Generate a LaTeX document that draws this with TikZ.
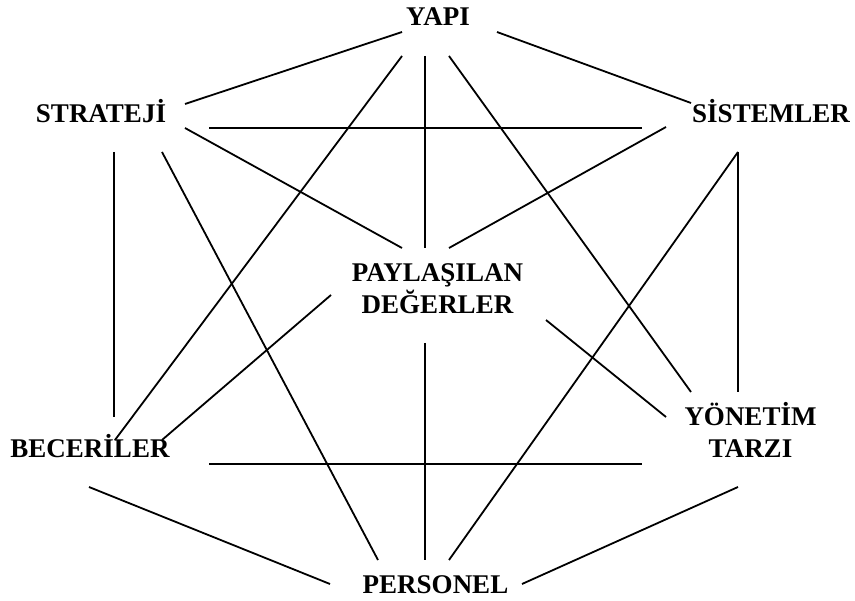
\documentclass[tikz,border=0pt]{standalone}
\usepackage{fontspec}
\setmainfont{Liberation Serif}
\usepackage{tikz}
\usetikzlibrary{positioning}
\tikzset{
  factor/.style = {anchor=base, inner sep=0pt, align=center,
                   font=\bfseries\fontsize{27}{32}\selectfont},
  link/.style   = {line width=1.8pt, black},
}

\begin{document}
\begin{tikzpicture}[x=1pt, y=-1pt]
  \useasboundingbox (0,0) rectangle (855,601);

  %─── The seven S (base = last line) ────────────────────────────────────────
  \node[factor] at (438, 26)    (yapi)      {YAPI};
  \node[factor] at (101, 123)   (strateji)  {STRATEJİ};
  \node[factor] at (771, 123)   (sistemler) {SİSTEMLER};
  \node[factor] at (437.5, 314) (degerler)  {PAYLAŞILAN\\DEĞERLER};
  \node[factor] at (90, 458)    (beceriler) {BECERİLER};
  \node[factor] at (750.5, 458) (yonetim)   {YÖNETİM\\TARZI};
  \node[factor] at (435.5, 594) (personel)  {PERSONEL};

  %─── Line ends (the lines stop short of the words) ─────────────────────────
  % round YAPI
  \coordinate (yapi-str) at (402, 32);
  \coordinate (yapi-sis) at (497, 32);
  \coordinate (yapi-pay) at (425, 56);
  \coordinate (yapi-bec) at (402, 56);
  \coordinate (yapi-yon) at (449, 56);
  % round STRATEJİ
  \coordinate (str-yapi) at (185, 104);
  \coordinate (str-sis)  at (209, 128);
  \coordinate (str-pay)  at (185, 128);
  \coordinate (str-per)  at (162, 152);
  \coordinate (str-bec)  at (114, 152);
  % round SİSTEMLER
  \coordinate (sis-yapi) at (691, 103);
  \coordinate (sis-str)  at (642, 128);
  \coordinate (sis-pay)  at (666, 127);
  \coordinate (sis-per)  at (738, 152);
  \coordinate (sis-yon)  at (738, 152);
  % round PAYLAŞILAN DEĞERLER
  \coordinate (pay-yapi) at (425, 248);
  \coordinate (pay-str)  at (402, 248);
  \coordinate (pay-sis)  at (449, 248);
  \coordinate (pay-bec)  at (331, 295);
  \coordinate (pay-yon)  at (546, 320);
  \coordinate (pay-per)  at (425, 343);
  % round BECERİLER
  \coordinate (bec-yapi) at (115, 440);
  \coordinate (bec-str)  at (114, 417);
  \coordinate (bec-pay)  at (162, 440);
  \coordinate (bec-yon)  at (209, 464);
  \coordinate (bec-per)  at (89, 487);
  % round YÖNETİM TARZI
  \coordinate (yon-yapi) at (691, 392);
  \coordinate (yon-sis)  at (738, 392);
  \coordinate (yon-pay)  at (666, 417);
  \coordinate (yon-bec)  at (642, 464);
  \coordinate (yon-per)  at (738, 487);
  % round PERSONEL
  \coordinate (per-str)  at (378, 560);
  \coordinate (per-pay)  at (425, 560);
  \coordinate (per-sis)  at (449, 560);
  \coordinate (per-bec)  at (330, 584);
  \coordinate (per-yon)  at (522, 584);

  %─── Links ─────────────────────────────────────────────────────────────────
  % from YAPI
  \draw[link] (yapi-str) -- (str-yapi);
  \draw[link] (yapi-sis) -- (sis-yapi);
  \draw[link] (yapi-pay) -- (pay-yapi);
  \draw[link] (yapi-bec) -- (bec-yapi);
  \draw[link] (yapi-yon) -- (yon-yapi);

  % from STRATEJİ
  \draw[link] (str-sis) -- (sis-str);
  \draw[link] (str-pay) -- (pay-str);
  \draw[link] (str-per) -- (per-str);
  \draw[link] (str-bec) -- (bec-str);

  % from SİSTEMLER
  \draw[link] (sis-pay) -- (pay-sis);
  \draw[link] (sis-per) -- (per-sis);
  \draw[link] (sis-yon) -- (yon-sis);

  % from PAYLAŞILAN DEĞERLER
  \draw[link] (pay-bec) -- (bec-pay);
  \draw[link] (pay-yon) -- (yon-pay);
  \draw[link] (pay-per) -- (per-pay);

  % bottom row
  \draw[link] (bec-yon) -- (yon-bec);
  \draw[link] (bec-per) -- (per-bec);
  \draw[link] (yon-per) -- (per-yon);

\end{tikzpicture}
\end{document}
